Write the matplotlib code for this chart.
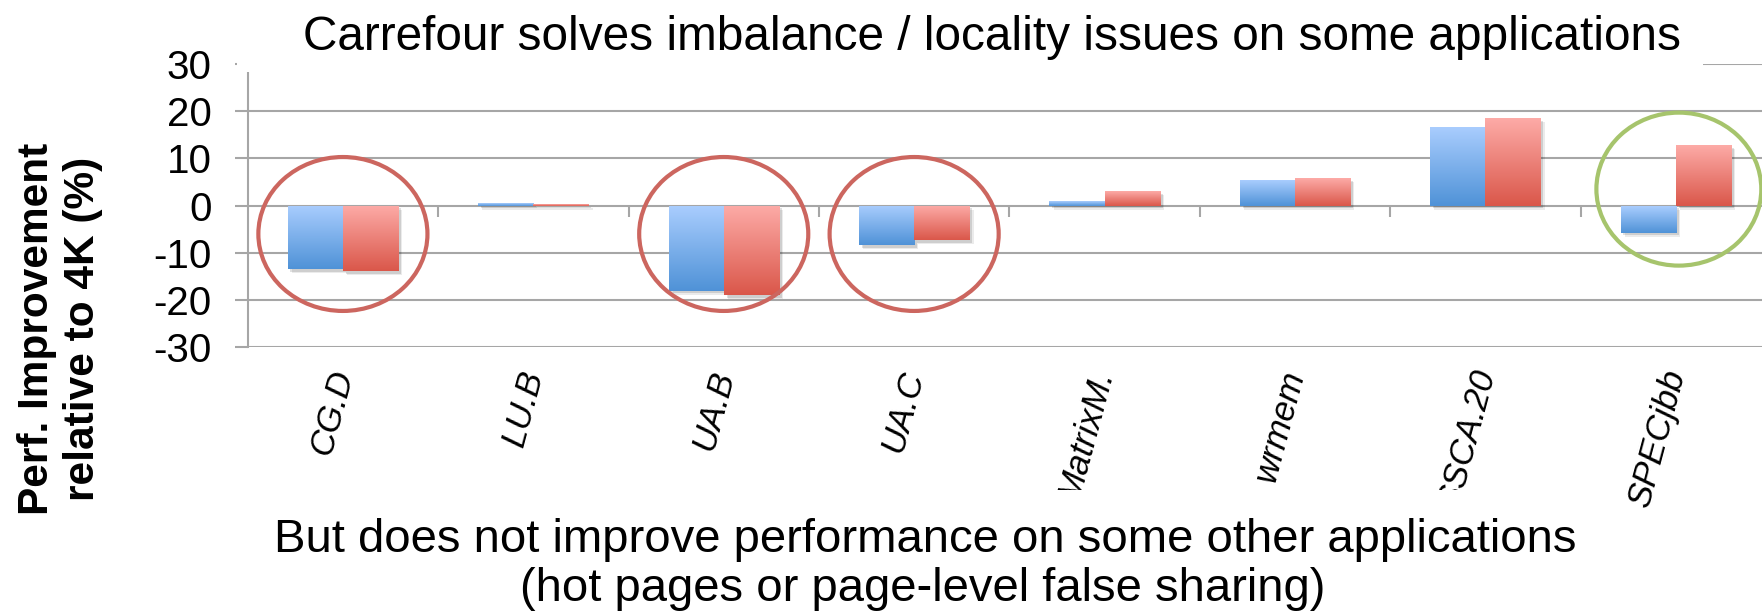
import numpy as np
import matplotlib
matplotlib.use('Agg')
import matplotlib.pyplot as plt
from matplotlib.colors import LinearSegmentedColormap
from matplotlib.patches import Ellipse, Rectangle
import matplotlib.patheffects as pe

# ---------------- data ----------------
categories = ['CG.D', 'LU.B', 'UA.B', 'UA.C', 'MatrixM.', 'wrmem', 'SSCA.20', 'SPECjbb']
series_blue = [-13.4, 0.5, -18.0, -8.3, 0.9, 5.4, 16.7, -5.7]
series_red = [-13.8, 0.3, -18.9, -7.3, 3.1, 5.8, 18.6, 12.9]
y_ticks = [-30, -20, -10, 0, 10, 20, 30]
title_text = 'Carrefour solves imbalance / locality issues on some applications'
ylabel_text = 'Perf. Improvement\nrelative to 4K (%)'
bottom_line1 = 'But does not improve performance on some other applications'
bottom_line2 = '(hot pages or page-level false sharing)'
circled_red = [0, 2, 3]
circled_green = [7]

# ---------------- figure ----------------
plt.rcParams['font.family'] = ['Liberation Sans', 'DejaVu Sans']
W, H = 1762, 613
fig = plt.figure(figsize=(W / 100, H / 100), dpi=100)
fig.patch.set_facecolor('white')


def fx(px):
    return px / W


def fy(py):
    return 1 - py / H


GRID = '#a6a6a6'
ax = fig.add_axes([fx(247.7), fy(347.3), (1771 - 247.7) / W, (347.3 - 64) / H])
x = np.arange(len(categories))
w = 0.29

shadow = [pe.SimplePatchShadow(offset=(3, -3), shadow_rgbFace='k', alpha=0.08),
          pe.SimplePatchShadow(offset=(2, -2), shadow_rgbFace='k', alpha=0.12),
          pe.Normal()]

bars_b = ax.bar(x - w / 2, series_blue, w, color='#7fb0ea', zorder=3, linewidth=0)
bars_r = ax.bar(x + w / 2, series_red, w, color='#ee8078', zorder=3, linewidth=0)

cmap_b = LinearSegmentedColormap.from_list('b', ['#a9cdfe', '#4f92d7'])
cmap_r = LinearSegmentedColormap.from_list('r', ['#fdaba7', '#da574a'])
grad = np.linspace(0, 1, 256).reshape(-1, 1)
for bars, cmap in ((bars_b, cmap_b), (bars_r, cmap_r)):
    for p in bars:
        p.set_path_effects(shadow)
        x0 = p.get_x()
        x1 = x0 + p.get_width()
        y0 = p.get_y()
        y1 = y0 + p.get_height()
        lo, hi = min(y0, y1), max(y0, y1)
        im = ax.imshow(grad, extent=(x0, x1, lo, hi), origin='upper', cmap=cmap,
                       aspect='auto', zorder=3.5, interpolation='bilinear')
        im.set_clip_path(p)

# annotation ellipses
for i in circled_red:
    ax.add_patch(Ellipse((i, -6), width=0.888, height=32.6, fill=False,
                         ec='#cc665f', lw=3.0, zorder=6, clip_on=False))
for i in circled_green:
    ax.add_patch(Ellipse((i + 0.016, 3.5), width=0.866, height=32.4, fill=False,
                         ec='#a6c46c', lw=3.0, zorder=6, clip_on=False))

ax.set_xlim(-0.5, len(categories) - 0.5)
ax.set_ylim(-30, 30)
ax.set_yticks(y_ticks)
ax.set_yticklabels([str(v) for v in y_ticks])
ax.yaxis.grid(True, color=GRID, lw=1.5, zorder=0)
ax.set_axisbelow(True)
for s in ('top', 'right', 'bottom'):
    ax.spines[s].set_visible(False)
ax.spines['left'].set_color(GRID)
ax.spines['left'].set_linewidth(1.5)
ax.tick_params(axis='y', length=9.1, width=1.5, color=GRID, pad=17, labelsize=29)

ax.set_xticks(x)
ax.set_xticklabels(categories, rotation=75, ha='right', va='center',
                   rotation_mode='anchor', fontstyle='italic', fontsize=25)
ax.tick_params(axis='x', length=0, pad=17)

# boundary tick marks on the zero line
try:
    sec = ax.secondary_xaxis(0, transform=ax.transData)
except TypeError:
    sec = ax.secondary_xaxis(0.5)
sec.set_xticks(np.arange(len(categories)) + 0.5)
sec.set_xticklabels([])
sec.tick_params(direction='out', length=8, width=1.5, color=GRID)
sec.spines['bottom'].set_visible(False)

# title box
fig.add_artist(Rectangle((fx(237), fy(71.5)), fx(1703) - fx(237), 71.5 / H,
                         transform=fig.transFigure, facecolor='white',
                         edgecolor='none', zorder=5))
fig.text(fx(992), fy(50), title_text, ha='center', va='baseline',
         fontsize=34.4, zorder=6)

# y label
fig.text(fx(60), fy(329), ylabel_text, rotation=90, ha='center', va='center',
         fontsize=30.5, fontweight='bold', multialignment='center',
         linespacing=1.17)

# bottom box and text
fig.add_artist(Rectangle((fx(240), 0), fx(1610) - fx(240), (H - 490) / H,
                         transform=fig.transFigure, facecolor='white',
                         edgecolor='none', zorder=5))
fig.text(fx(925), fy(552), bottom_line1, ha='center', va='baseline',
         fontsize=34, zorder=6)
fig.text(fx(923), fy(601), bottom_line2, ha='center', va='baseline',
         fontsize=34, zorder=6)

fig.savefig('out.png', dpi=100, facecolor='white')
